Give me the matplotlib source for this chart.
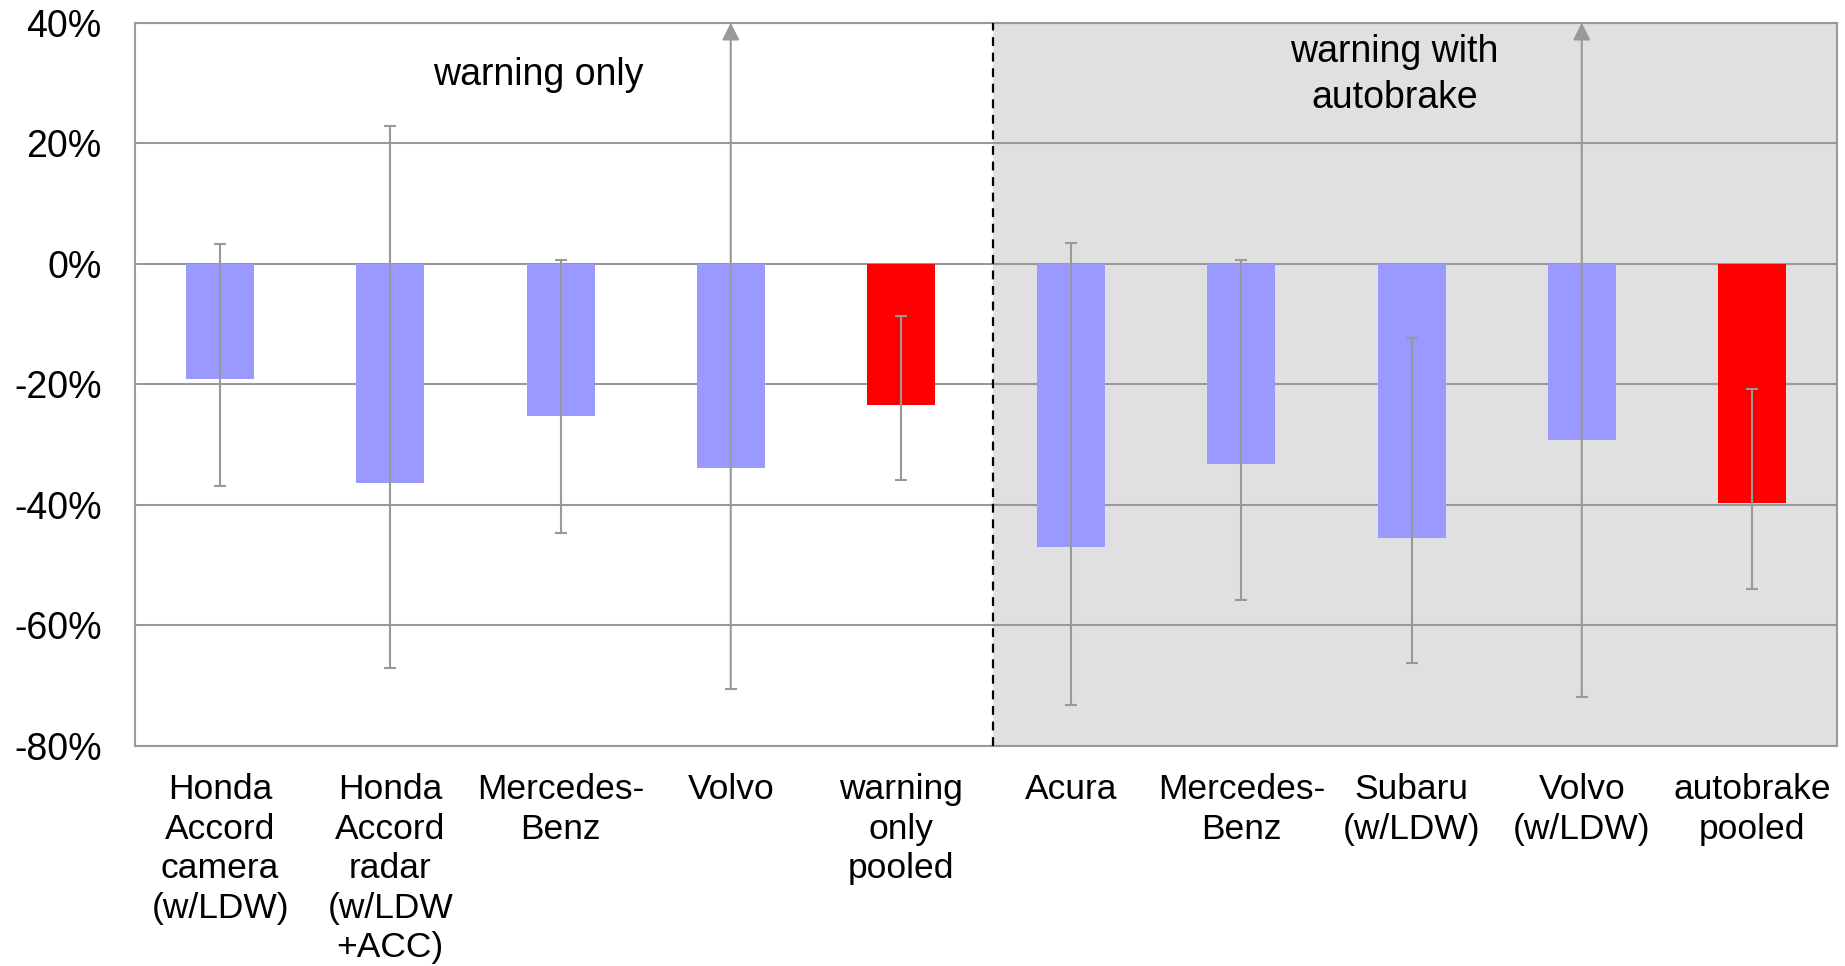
"""Crash-avoidance bar chart: warning only vs warning with autobrake."""


import matplotlib
matplotlib.use("Agg")
import matplotlib.pyplot as plt


labels = [
    "Honda\nAccord\ncamera\n(w/LDW)",
    "Honda\nAccord\nradar\n(w/LDW\n+ACC)",
    "Mercedes-\nBenz",
    "Volvo",
    "warning\nonly\npooled",
    "Acura",
    "Mercedes-\nBenz",
    "Subaru\n(w/LDW)",
    "Volvo\n(w/LDW)",
    "autobrake\npooled",
]
values = [-19.1, -36.3, -25.2, -33.8, -23.4, -47.0, -33.2, -45.5, -29.3, -39.7]
err_low = [-36.9, -67.1, -44.7, -70.6, -35.9, -73.2, -55.8, -66.3, -71.8, -53.9]
err_high = [3.3, 22.8, 0.6, None, -8.6, 3.5, 0.6, -12.3, None, -20.8]  # None = runs off the top
pooled = [False, False, False, False, True, False, False, False, False, True]

BLUE = "#9999ff"
RED = "#ff0000"
GREY = "#999999"
SPLIT = 5.04  # the dashed divider sits a touch right of the category edge


def main() -> None:
    plt.rcParams["font.family"] = ["Liberation Sans", "DejaVu Sans"]
    fig = plt.figure(figsize=(18.45, 9.66), dpi=100)
    ax = fig.add_axes([0.0732, 0.2277, 0.9225, 0.7488])

    n = len(values)
    xs = [i + 0.5 for i in range(n)]

    ax.axvspan(SPLIT, n, color="#e0e0e0", zorder=0, lw=0)
    for y in range(-80, 41, 20):
        ax.axhline(y, color=GREY, lw=1.5, zorder=1)
    ax.axvline(SPLIT, color="black", lw=1.6, ls=(0, (4, 3)), zorder=4)

    colors = [RED if p else BLUE for p in pooled]
    ax.bar(xs, values, width=0.4, color=colors, zorder=2)

    for x, v, lo, hi in zip(xs, values, err_low, err_high):
        if hi is not None:
            ax.errorbar([x], [v], yerr=[[v - lo], [hi - v]], fmt="none",
                        ecolor=GREY, elinewidth=1.5, capsize=4.6, capthick=1.5, zorder=3)
        else:
            ax.plot([x], [lo], marker="_", ms=9.2, mew=1.5, color=GREY, zorder=3)
            ax.annotate("", xy=(x, 40), xytext=(x, lo),
                        arrowprops=dict(arrowstyle="-|>", color=GREY, lw=1.5,
                                        mutation_scale=26, shrinkA=0, shrinkB=0),
                        zorder=3)

    ax.text(2.37, 31.3, "warning only", ha="center", va="center", fontsize=27)
    ax.text(7.40, 31.3, "warning with\nautobrake", ha="center", va="center",
            fontsize=27, linespacing=1.34)

    ax.set_xlim(0, n)
    ax.set_ylim(-80, 40)
    ax.set_yticks(range(-80, 41, 20))
    ax.set_yticklabels([f"{t}%" for t in range(-80, 41, 20)], fontsize=27)
    ax.set_xticks(xs)
    ax.set_xticklabels(labels, fontsize=25.5, linespacing=1.25)
    ax.tick_params(axis="both", length=0)
    ax.tick_params(axis="y", pad=24)
    ax.tick_params(axis="x", pad=19.5)
    for side in ["left", "right", "top", "bottom"]:
        ax.spines[side].set_color(GREY)
        ax.spines[side].set_linewidth(1.5)

    fig.savefig("out.png", dpi=100)


if __name__ == "__main__":
    main()
